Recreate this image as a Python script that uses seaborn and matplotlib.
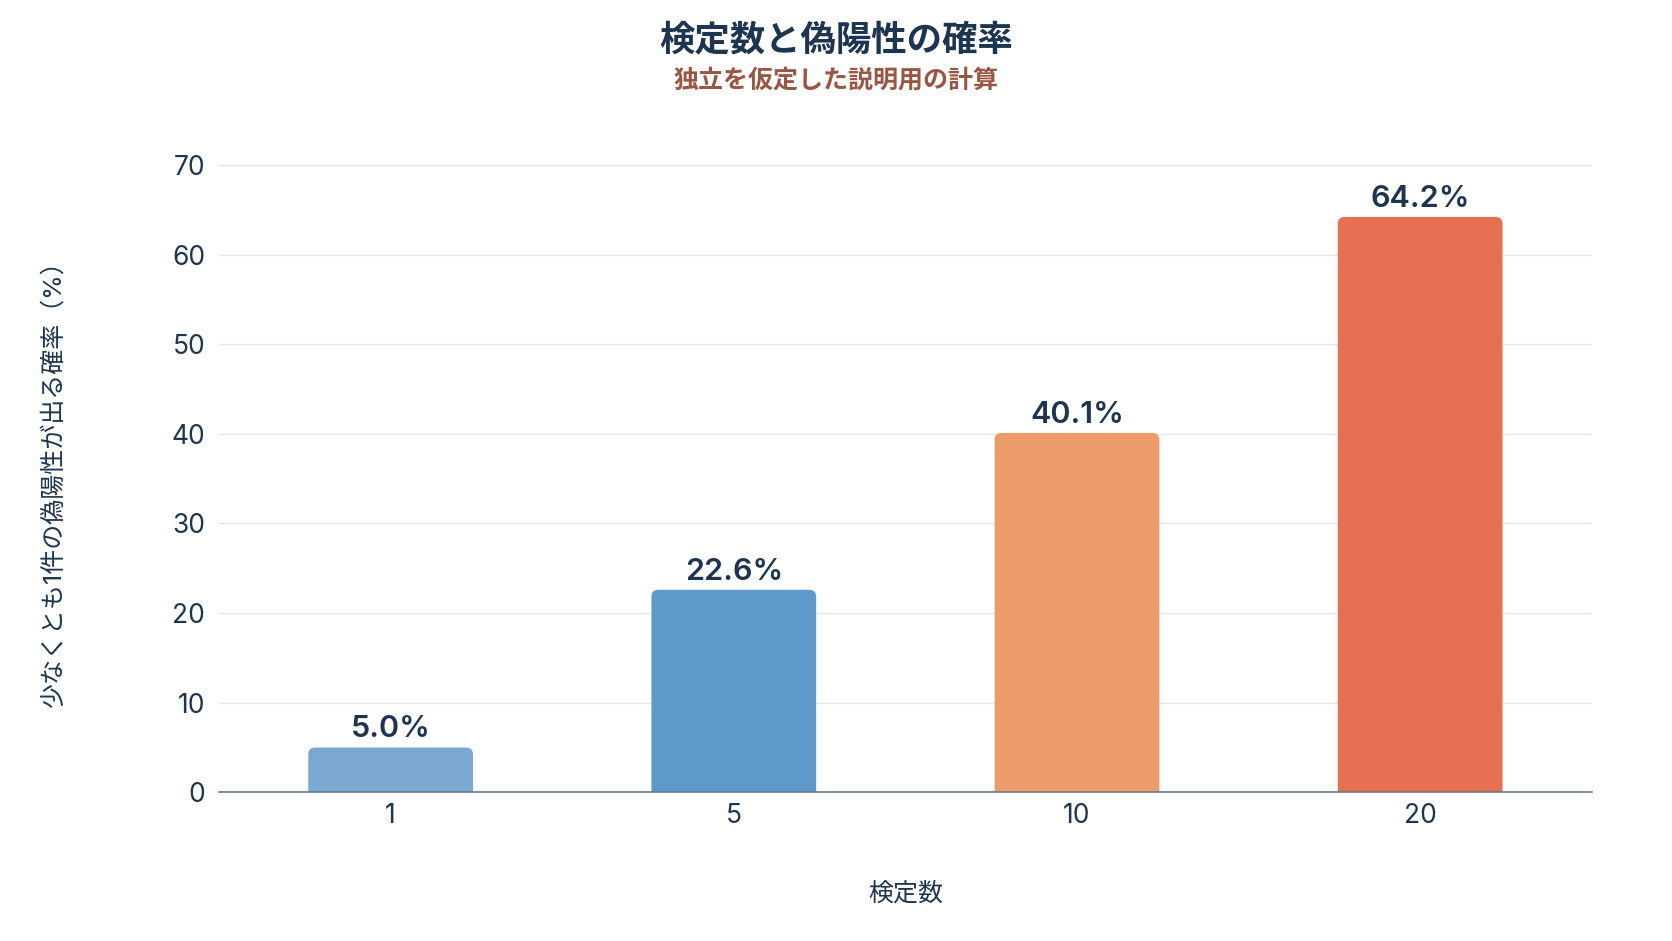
import pandas as pd
import matplotlib.pyplot as plt
import seaborn as sns
from matplotlib.patches import FancyBboxPatch

# chart data
tests = ["1", "5", "10", "20"]
prob_pct = [5.0, 22.6, 40.1, 64.2]
bar_colors = ["#7BA8D1", "#5E99C9", "#EC9C68", "#E57052"]

df = pd.DataFrame({"tests": tests, "prob": prob_pct})

sns.set_theme(style="whitegrid")
plt.rcParams["font.family"] = ["Inter", "Noto Sans CJK JP", "DejaVu Sans"]

navy = "#1D3550"
fig = plt.figure(figsize=(16.72, 9.41), dpi=100)
ax = fig.add_axes([0.131, 0.158, 0.821, 0.6667])

sns.barplot(data=df, x="tests", y="prob", hue="tests", palette=bar_colors,
            legend=False, width=0.48, saturation=1, ax=ax)

ax.set_ylim(0, 70)
ax.set_xlim(-0.5, 3.5)

# round the top corners of the bars
px_per_x = ax.bbox.width / 4
px_per_y = ax.bbox.height / 70
for p in list(ax.patches):
    x, w, h = p.get_x(), p.get_width(), p.get_height()
    fc = p.get_facecolor()
    p.remove()
    r = FancyBboxPatch((x, -2), w, h + 2,
                       boxstyle="round,pad=0,rounding_size=0.02",
                       mutation_aspect=px_per_x / px_per_y,
                       facecolor=fc, edgecolor="none", zorder=2)
    ax.add_patch(r)
    ax.text(x + w / 2, h + 0.45, f"{h:.1f}%", ha="center", va="bottom",
            fontsize=22, fontweight="semibold", color=navy)

ax.set_yticks(range(0, 71, 10))
ax.grid(axis="y", color="#E3E7EB", linewidth=1)
ax.grid(axis="x", visible=False)
for s in ["top", "right", "left"]:
    ax.spines[s].set_visible(False)
ax.spines["bottom"].set_color("#6B7B8C")
ax.spines["bottom"].set_linewidth(1.2)
ax.tick_params(axis="both", length=0, labelsize=19, labelcolor=navy)
ax.tick_params(axis="x", pad=8)
ax.tick_params(axis="y", pad=10)

ax.set_xlabel("検定数", fontsize=18, color=navy, labelpad=38)
ax.set_ylabel("少なくとも1件の偽陽性が出る確率（%）", fontsize=18, color=navy, labelpad=76)

fig.text(0.5, 0.957, "検定数と偽陽性の確率", ha="center", va="center",
         fontsize=25.5, fontweight="bold", color=navy)
fig.text(0.5, 0.914, "独立を仮定した説明用の計算", ha="center", va="center",
         fontsize=18, fontweight="bold", color="#9A5642")

plt.savefig("out.png", dpi=100)
